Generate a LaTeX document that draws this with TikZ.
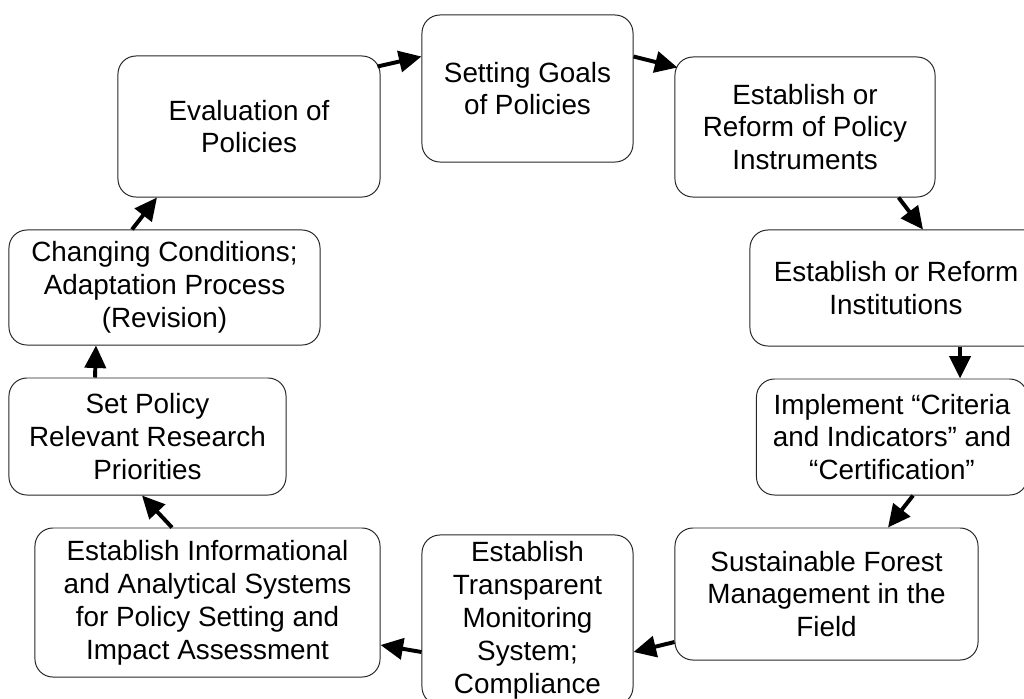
\documentclass[tikz,border=0pt]{standalone}
\usepackage{fontspec}
\setmainfont{Liberation Sans}
\usetikzlibrary{arrows.meta,calc}
\tikzset{
  stage/.style={draw=black!85,line width=0.7pt,rounded corners=0.45cm,align=center,
    inner sep=0pt,font=\fontsize{19.8}{23.4}\selectfont},
  arr/.style={line width=2.8pt,-{Triangle[length=16pt,width=15pt]}}
}
\begin{document}
\begin{tikzpicture}[x=0.025cm,y=-0.025cm]
\useasboundingbox (0,0) rectangle (1024,698);
\node[stage,minimum width=5.275cm,minimum height=3.675cm] (goals) at (527.5,88.5) {Setting Goals\\of Policies};
\node[stage,minimum width=6.5cm,minimum height=3.5cm] (instr) at (805,127) {Establish or\\Reform of Policy\\Instruments};
\node[stage,minimum width=7.3cm,minimum height=2.9cm] (inst) at (896,288) {Establish or Reform\\Institutions};
\node[stage,minimum width=6.775cm,minimum height=2.9cm] (impl) at (892,437) {Implement “Criteria\\and Indicators” and\\“Certification”};
\node[stage,minimum width=7.575cm,minimum height=3.3cm] (sfm) at (826.5,594) {Sustainable Forest\\Management in the\\Field};
\node[stage,minimum width=5.275cm,minimum height=4.25cm] (mon) at (527.5,620) {Establish\\Transparent\\Monitoring\\System;\\Compliance};
\node[stage,minimum width=8.625cm,minimum height=3.725cm] (info) at (207.5,602.5) {Establish Informational\\and Analytical Systems\\for Policy Setting and\\Impact Assessment};
\node[stage,minimum width=6.925cm,minimum height=2.925cm] (research) at (147.5,436.5) {Set Policy\\Relevant Research\\Priorities};
\node[stage,minimum width=7.775cm,minimum height=2.875cm] (change) at (164.5,287.5) {Changing Conditions;\\Adaptation Process\\(Revision)};
\node[stage,minimum width=6.55cm,minimum height=3.525cm] (eval) at (249,126.5) {Evaluation of\\Policies};
% cycle
\draw[arr] ($(eval.north east)+(-3,11)$) -- ($(goals.north west)+(0,42)$);
\draw[arr] ($(goals.north east)+(0,42)$) -- ($(instr.north west)+(3,11)$);
\draw[arr] ($(instr.south east)+(-37,0)$) -- ($(inst.north)+(27,0)$);
\draw[arr] ($(inst.south)+(64,0)$) -- ($(impl.north)+(68,0)$);
\draw[arr] ($(impl.south)+(21,0)$) -- ($(sfm.north)+(61.5,0)$);
\draw[arr] ($(sfm.west)+(0,48)$) -- ($(mon.east)+(0,32)$);
\draw[arr] ($(mon.west)+(0,32)$) -- ($(info.east)+(0,42.5)$);
\draw[arr] ($(info.north)+(-35.5,0)$) -- ($(research.south)+(-5.5,0)$);
\draw[arr] ($(research.north)+(-52.5,0)$) -- ($(change.south)+(-68.5,0)$);
\draw[arr] ($(change.north)+(-32.5,0)$) -- ($(eval.south)+(-92,0)$);
\end{tikzpicture}
\end{document}
